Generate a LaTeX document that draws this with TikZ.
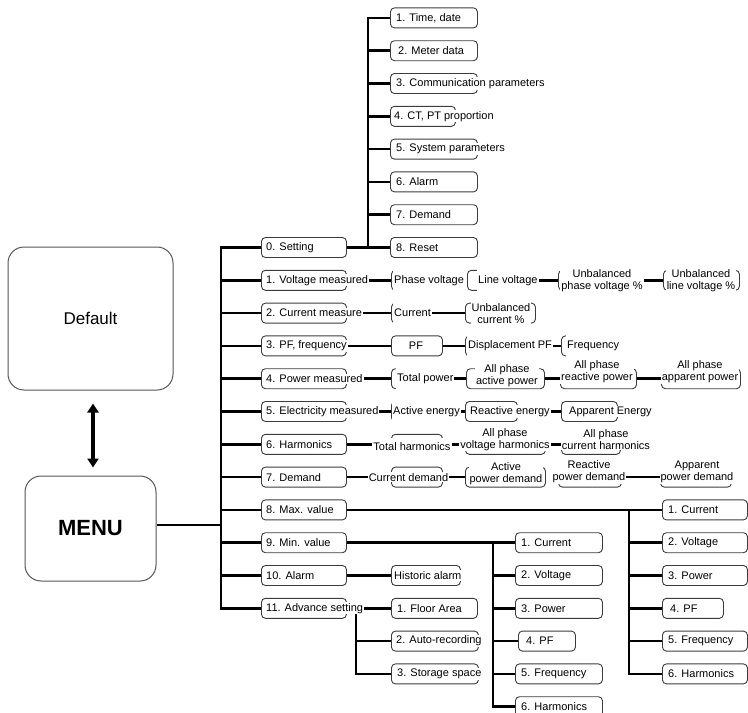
\documentclass[tikz,border=0pt]{standalone}
\usepackage{fontspec}
\setmainfont{Liberation Sans}
\usetikzlibrary{arrows.meta,backgrounds}
\definecolor{boxc}{HTML}{3C3C3C}
\definecolor{bigc}{HTML}{555555}
\newcommand\BX[4]{\node[bx,anchor=west,minimum width={#3-#2}] (#1) at (#2,#4) {};}
\newcommand\TX[5][]{\node[tx,anchor=west,#1] (#2) at (#3,#4) {#5};}
\newcommand\TC[5][]{\node[tx,#1] (#2) at (#3,#4) {#5};}
\begin{document}
\begin{tikzpicture}[x=1pt,y=-1pt,
  bx/.style={draw=boxc,line width=0.9pt,rounded corners=4pt,fill=white,minimum height=20pt,inner sep=0pt},
  tx/.style={fill=white,inner xsep=1pt,inner ysep=1pt,font=\fontsize{11}{12}\selectfont,align=center},
  tall/.style={minimum height=23pt},
  conn/.style={line width=2.7pt,draw=black},
  big/.style={draw=bigc,line width=1pt,rounded corners=16pt,fill=white},
  dbl/.style={line width=3.8pt,{Triangle[width=11pt,length=9pt]}-{Triangle[width=11pt,length=9pt]}}]
\useasboundingbox (0,0) rectangle (748,713);

% left boxes
\node[big,minimum width=165pt,minimum height=143pt,font=\fontsize{17}{20}\selectfont] (Default) at (90.5,318.5) {Default};
\node[big,minimum width=131pt,minimum height=105pt,font=\bfseries\fontsize{22}{26}\selectfont] (MENU) at (90.5,528.5) {MENU};
\draw[dbl,shorten <=13pt,shorten >=8pt] ([xshift=2.5pt]Default.south) -- ([xshift=2.5pt]MENU.north);

% setting sub column
\BX{s1}{390}{477}{17.9}
\BX{s2}{390}{477}{50.7}
\BX{s3}{390}{477}{83.5}
\BX{s4}{390}{455}{116.3}
\BX{s5}{390}{477}{149.1}
\BX{s6}{390}{477}{181.9}
\BX{s7}{390}{477}{214.7}
\BX{s8}{390}{477}{247.5}
\TX{s1t}{395}{17.9}{1. Time, date}
\TX{s2t}{397}{50.7}{2. Meter data}
\TX{s3t}{395}{83.5}{3. Communication parameters}
\TX{s4t}{393}{116.3}{4. CT, PT proportion}
\TX{s5t}{395}{149.1}{5. System parameters}
\TX{s6t}{395}{181.9}{6. Alarm}
\TX{s7t}{395}{214.7}{7. Demand}
\TX{s8t}{395}{247.5}{8. Reset}

% main column
\BX{r0a}{261}{346}{247.5}
\BX{r1a}{261}{346}{280.3}
\BX{r2a}{261}{346}{313.1}
\BX{r3a}{261}{346}{345.9}
\BX{r4a}{261}{346}{378.7}
\BX{r5a}{261}{346}{411.5}
\BX{r6a}{261}{346}{444.3}
\BX{r7a}{261}{346}{477.1}
\BX{r8a}{261}{346}{509.9}
\BX{r9a}{261}{346}{542.7}
\BX{r10a}{261}{346}{575.5}
\BX{r11a}{261}{346}{608.3}
\TX{r0at}{265}{247.5}{0. Setting}
\TX{r1at}{265}{280.3}{1. Voltage measured}
\TX{r2at}{265}{313.1}{2. Current measure}
\TX{r3at}{265}{345.9}{3. PF, frequency}
\TX{r4at}{265}{378.7}{4. Power measured}
\TX{r5at}{265}{411.5}{5. Electricity measured}
\TX{r6at}{265}{444.3}{6. Harmonics}
\TX{r7at}{265}{477.1}{7. Demand}
\TX{r8at}{265}{509.9}{8. Max. value}
\TX{r9at}{265}{542.7}{9. Min. value}
\TX{r10at}{265}{575.5}{10. Alarm}
\TX{r11at}{265}{608.3}{11. Advance setting}

% row 1
\BX{r1b}{391}{433}{280.3}
\BX{r1c}{467}{509}{280.3}
\BX{r1d}{558}{600}{280.3}
\BX{r1e}{663}{739}{280.3}
\TX[tall]{r1bt}{393}{280.3}{Phase voltage}
\TX[tall]{r1ct}{477}{280.3}{Line voltage}
\TC{r1dt}{602}{280.3}{Unbalanced\\phase voltage \%}
\TC{r1et}{701}{280.3}{Unbalanced\\line voltage \%}

% row 2
\BX{r2b}{391}{423}{313.1}
\BX{r2c}{465}{535}{313.1}
\TX[tall]{r2bt}{393}{313.1}{Current}
\TC{r2ct}{501}{313.1}{Unbalanced\\current \%}

% row 3
\BX{r3b}{391}{442}{345.9}
\BX{r3c}{465}{520}{345.9}
\BX{r3d}{561}{615}{345.9}
\TC{r3bt}{416}{345.9}{PF}
\TX[tall]{r3ct}{467}{345.9}{Displacement PF}
\TX[tall]{r3dt}{566}{345.9}{Frequency}

% row 4
\BX{r4b}{391}{442}{378.7}
\BX{r4c}{466}{544}{378.7}
\BX{r4d}{560}{636}{378.7}
\BX{r4e}{661}{740}{378.7}
\TX[tall]{r4bt}{396}{378.7}{Total power}
\TC{r4ct}{507}{375.7}{All phase\\active power}
\TC{r4dt}{597}{371.7}{All phase\\reactive power}
\TC{r4et}{700}{371.7}{All phase\\apparent power}

% row 5
\BX{r5b}{391}{442}{411.5}
\BX{r5c}{465}{517}{411.5}
\BX{r5d}{561}{617}{411.5}
\TX[tall]{r5bt}{392}{411.5}{Active energy}
\TX{r5ct}{469}{411.5}{Reactive energy}
\TX{r5dt}{568}{411.5}{Apparent Energy}

% row 6
\BX{r6b}{391}{442}{444.3}
\BX{r6c}{465}{545}{444.3}
\BX{r6d}{561}{620}{444.3}
\TC[minimum height=17pt]{r6bt}{412}{446.3}{Total harmonics}
\TC{r6ct}{505}{439.3}{All phase\\voltage harmonics}
\TC{r6dt}{606}{439.3}{All phase\\current harmonics}

% row 7
\BX{r7b}{391}{442}{477.1}
\BX{r7c}{465}{545}{477.1}
\BX{r7d}{558}{621}{477.1}
\BX{r7e}{660}{731}{477.1}
\TC{r7bt}{408.5}{477.1}{Current demand}
\TC{r7ct}{506}{474.1}{Active\\power demand}
\TC{r7dt}{589}{472.1}{Reactive\\power demand}
\TC{r7et}{697}{472.1}{Apparent\\power demand}

% max column
\BX{x1}{662}{747}{509.9}
\BX{x2}{662}{747}{542.7}
\BX{x3}{662}{747}{575.5}
\BX{x4}{662}{723}{608.3}
\BX{x5}{662}{747}{641.1}
\BX{x6}{662}{747}{673.9}
\TX{x1t}{667}{509.9}{1. Current}
\TX{x2t}{667}{542.7}{2. Voltage}
\TX{x3t}{667}{575.5}{3. Power}
\TX{x4t}{669}{608.3}{4. PF}
\TX{x5t}{667}{641.1}{5. Frequency}
\TX{x6t}{667}{673.9}{6. Harmonics}

% min column
\BX{n1}{515}{602}{542.7}
\BX{n2}{515}{602}{575.5}
\BX{n3}{515}{602}{608.3}
\BX{n4}{518}{575}{641.1}
\BX{n5}{515}{602}{673.9}
\BX{n6}{515}{602}{706.7}
\TX{n1t}{520}{542.7}{1. Current}
\TX{n2t}{520}{575.5}{2. Voltage}
\TX{n3t}{520}{608.3}{3. Power}
\TX{n4t}{525}{641.1}{4. PF}
\TX{n5t}{520}{673.9}{5. Frequency}
\TX{n6t}{520}{706.7}{6. Harmonics}

% alarm
\BX{h1}{391}{460}{575.5}
\TX{h1t}{393}{575.5}{Historic alarm}

% advance setting
\BX{f1}{391}{477}{608.3}
\BX{f2}{391}{478}{641.1}
\BX{f3}{391}{478}{673.9}
\TX{f1t}{396}{608.3}{1. Floor Area}
\TX{f2t}{395}{641.1}{2. Auto-recording}
\TX{f3t}{396}{673.9}{3. Storage space}

% connectors
\begin{pgfonlayer}{background}
\coordinate (mtop) at (221,247.5);
\coordinate (mbot) at (221,608.3);
\coordinate (mj) at (221,525);
\draw[conn] (MENU.east |- mj) -- (mj);
\draw[conn] (r0a) -- (mtop) -- (mbot) -- (r11a);
\foreach \i in {1,...,10} \draw[conn] (r\i a) -- (r\i a -| mtop);

\coordinate (stop) at (368,17.9);
\coordinate (sbot) at (368,247.5);
\draw[conn] (s1) -- (stop) -- (sbot);
\draw[conn] (r0a) -- (s8);
\foreach \i in {2,...,7} \draw[conn] (s\i) -- (s\i -| stop);

\draw[conn] (r1a) -- (r1b);
\draw[conn] (r1c) -- (r1d);
\draw[conn] (r1d) -- (r1e);
\draw[conn] (r2a) -- (r2b);
\draw[conn] (r2b) -- (r2c);
\draw[conn] (r3a) -- (r3b);
\draw[conn] (r3b) -- (r3c);
\draw[conn] (r3c) -- (r3d);
\draw[conn] (r4a) -- (r4b);
\draw[conn] (r4b) -- (r4c);
\draw[conn] (r4c) -- (r4d);
\draw[conn] (r4d) -- (r4e);
\draw[conn] (r5a) -- (r5b);
\draw[conn] (r5b) -- (r5c);
\draw[conn] (r5c) -- (r5d);
\draw[conn] (r6a) -- (r6b);
\draw[conn] (r6b) -- (r6c);
\draw[conn] (r6c) -- (r6d);
\draw[conn] (r7a) -- (r7b);
\draw[conn] (r7b) -- (r7c);
\draw[conn] (r7d) -- (r7e);

\coordinate (xtop) at (629,509.9);
\coordinate (xbot) at (629,673.9);
\draw[conn] (r8a) -- (x1);
\draw[conn] (xtop) -- (xbot) -- (x6);
\foreach \i in {2,...,5} \draw[conn] (x\i) -- (x\i -| xtop);

\coordinate (ntop) at (493,542.7);
\coordinate (nbot) at (493,706.7);
\draw[conn] (r9a) -- (n1);
\draw[conn] (ntop) -- (nbot) -- (n6);
\foreach \i in {2,...,5} \draw[conn] (n\i) -- (n\i -| ntop);

\draw[conn] (r10a) -- (h1);

\coordinate (atop) at (356,608.3);
\coordinate (abot) at (356,673.9);
\draw[conn] (r11a) -- (f1);
\draw[conn] (atop) -- (abot) -- (f3);
\draw[conn] (f2) -- (f2 -| atop);
\end{pgfonlayer}
\end{tikzpicture}
\end{document}
